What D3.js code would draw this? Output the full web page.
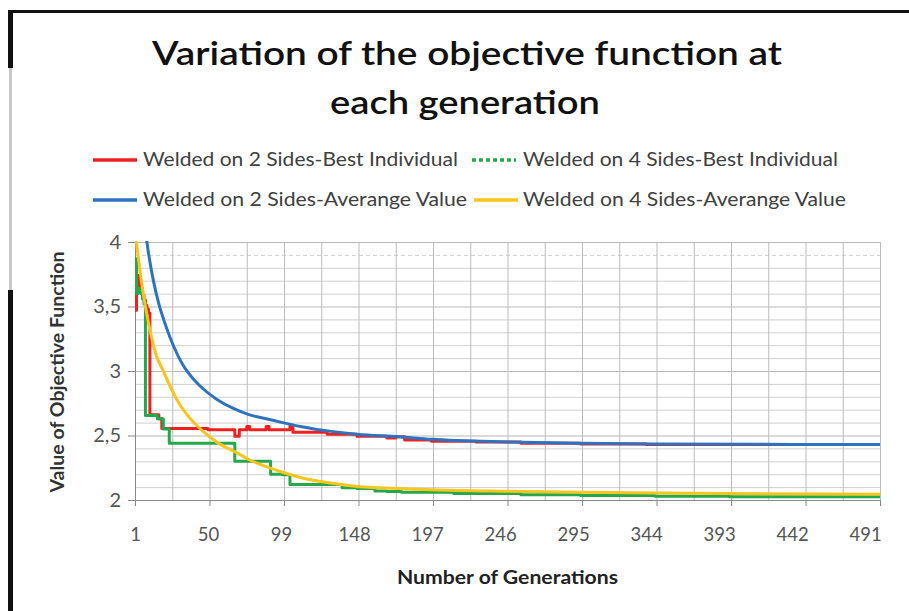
<!DOCTYPE html>
<html>
<head>
<meta charset="utf-8">
<script src="https://cdn.jsdelivr.net/npm/d3@7"></script>
<style>
  html, body { margin: 0; padding: 0; background: #fff; }
  svg { display: block; font-family: Lato, "Noto Sans", sans-serif; }
</style>
</head>
<body>
<script>
// generation, value pairs
const best2Sides = [
  [1, 3.47], [2, 3.62], [3, 3.74], [4, 3.70], [5, 3.64], [6, 3.59], [7, 3.55],
  [8, 3.51], [9, 3.48], [10, 3.45], [11, 2.66], [17, 2.63], [19, 2.555],
  [50, 2.545], [68, 2.495], [71, 2.545], [76, 2.57], [78, 2.545], [89, 2.57],
  [91, 2.545], [105, 2.575], [107, 2.525], [130, 2.51], [150, 2.495],
  [170, 2.48], [176, 2.49], [182, 2.465], [200, 2.455], [230, 2.45],
  [260, 2.44], [300, 2.435], [344, 2.43], [501, 2.43]
];
const best4Sides = [
  [1, 3.87], [2, 3.60], [3, 3.64], [4, 3.63], [5, 3.60], [6, 3.56], [7, 3.52],
  [8, 2.655], [16, 2.63], [20, 2.55], [24, 2.44], [68, 2.30], [92, 2.20],
  [100, 2.195], [105, 2.12], [140, 2.095], [150, 2.09], [162, 2.07],
  [170, 2.065], [180, 2.06], [215, 2.05], [260, 2.04], [300, 2.035],
  [350, 2.03], [400, 2.025], [501, 2.02]
];
const avg2Sides = [
  [1, 5.2], [5, 4.45], [9, 4.0], [13, 3.72], [17, 3.52], [22, 3.34], [27, 3.19],
  [33, 3.05], [40, 2.94], [45, 2.88], [56, 2.78], [67, 2.71], [78, 2.66],
  [89, 2.63], [100, 2.60], [112, 2.57], [134, 2.53], [150, 2.51], [178, 2.49],
  [200, 2.47], [250, 2.45], [300, 2.44], [350, 2.435], [501, 2.43]
];
const avg4Sides = [
  [1, 4.08], [3, 3.9], [5, 3.72], [8, 3.5], [11, 3.32], [15, 3.13], [20, 3.0],
  [25, 2.87], [30, 2.76], [36, 2.66], [44, 2.56], [50, 2.5], [57, 2.44],
  [68, 2.375], [78, 2.31], [90, 2.255], [100, 2.215], [112, 2.175],
  [130, 2.135], [150, 2.105], [177, 2.09], [200, 2.08], [250, 2.068],
  [300, 2.06], [350, 2.055], [400, 2.05], [501, 2.045]
];

const seriesNames = [
  "Welded on 2 Sides-Best Individual",
  "Welded on 4 Sides-Best Individual",
  "Welded on 2 Sides-Averange Value",
  "Welded on 4 Sides-Averange Value"
];
const xTickLabels = [1, 50, 99, 148, 197, 246, 295, 344, 393, 442, 491];
const yTickLabels = [2, 2.5, 3, 3.5, 4];

const W = 909, H = 611;
const plotL = 135, plotR = 880, plotT = 242, plotB = 500;

const svg = d3.select("body").append("svg")
  .attr("width", W).attr("height", H);

// scan frame
svg.append("rect").attr("x", 8).attr("y", 10).attr("width", W - 8).attr("height", 3).attr("fill", "#111");
svg.append("rect").attr("x", 8).attr("y", 10).attr("width", 5).attr("height", 58).attr("fill", "#111");
svg.append("rect").attr("x", 9).attr("y", 68).attr("width", 3).attr("height", 222).attr("fill", "#c9c9c9");
svg.append("rect").attr("x", 8).attr("y", 290).attr("width", 5).attr("height", H - 290).attr("fill", "#111");

const x = d3.scaleLinear().domain([1, 501]).range([plotL, plotR]);
const y = d3.scaleLinear().domain([2, 4]).range([plotB, plotT]);

// horizontal grid
const hGrid = svg.append("g").attr("transform", `translate(${plotL},0)`)
  .call(d3.axisLeft(y).tickValues(d3.range(20, 41).map(d => d / 10))
    .tickSize(-(plotR - plotL)).tickFormat(""));
hGrid.select(".domain").remove();
hGrid.selectAll("line")
  .attr("stroke", d => Math.abs(d * 2 - Math.round(d * 2)) < 1e-6 ? "#b8b8b8" : "#d0d0d0")
  .attr("stroke-dasharray", d => Math.abs(d - 3.9) < 1e-6 ? "4,3" : null);

// vertical grid
const vGrid = svg.append("g").attr("transform", `translate(0,${plotB})`)
  .call(d3.axisBottom(x).tickValues(d3.range(1, 502, 25))
    .tickSize(-(plotB - plotT)).tickFormat(""));
vGrid.select(".domain").remove();
vGrid.selectAll("line").attr("stroke", "#bcbcbc");

// y axis
const yAxis = svg.append("g").attr("transform", `translate(${plotL},0)`)
  .call(d3.axisLeft(y).tickValues(yTickLabels).tickSize(7).tickPadding(7)
    .tickFormat(d => String(d).replace(".", ",")));
yAxis.select(".domain").attr("stroke", "#8a8a8a");
yAxis.selectAll("line").attr("stroke", "#8a8a8a");
yAxis.selectAll("text").attr("fill", "#555").attr("font-size", 20).attr("font-family", "Lato, sans-serif");

// x axis
const xAxis = svg.append("g").attr("transform", `translate(0,${plotB})`)
  .call(d3.axisBottom(x).tickValues(d3.range(1, 502, 50)).tickSizeInner(6)
    .tickSizeOuter(0).tickFormat(""));
xAxis.select(".domain").attr("stroke", "#8a8a8a");
xAxis.selectAll("line").attr("stroke", "#8a8a8a");

const xLabels = svg.append("g").attr("transform", `translate(0,${plotB})`)
  .call(d3.axisBottom(x).tickValues(xTickLabels).tickSize(0).tickPadding(28));
xLabels.select(".domain").remove();
xLabels.selectAll("text").attr("fill", "#555").attr("font-size", 18.5).attr("font-family", "Lato, sans-serif");

// lines
svg.append("clipPath").attr("id", "plot")
  .append("rect").attr("x", plotL).attr("y", plotT - 1)
  .attr("width", plotR - plotL).attr("height", plotB - plotT + 1);

const stepLine = d3.line().x(d => x(d[0])).y(d => y(d[1])).curve(d3.curveStepAfter);
const smoothLine = d3.line().x(d => x(d[0])).y(d => y(d[1])).curve(d3.curveMonotoneX);

const colors = ["#ef2020", "#25a84a", "#2e73c0", "#f8c41e"];
const plotG = svg.append("g").attr("clip-path", "url(#plot)");
[[best2Sides, stepLine], [best4Sides, stepLine], [avg2Sides, smoothLine], [avg4Sides, smoothLine]]
  .forEach(([data, gen], i) => {
    plotG.append("path").attr("d", gen(data))
      .attr("fill", "none").attr("stroke", colors[i])
      .attr("stroke-width", 3).attr("stroke-linejoin", "round");
  });

// legend
const legendPos = [[93, 160], [472, 160], [93, 200], [474, 200]];
const legendTextW = [315, 315, 324, 323];
seriesNames.forEach((name, i) => {
  const [lx, ly] = legendPos[i];
  svg.append("line").attr("x1", lx).attr("x2", lx + 44).attr("y1", ly).attr("y2", ly)
    .attr("stroke", colors[i]).attr("stroke-width", 3.5)
    .attr("stroke-dasharray", i === 1 ? "4,3" : null);
  svg.append("text").attr("x", i % 2 ? 523 : 143).attr("y", ly + 6)
    .attr("font-size", 18.5).attr("fill", "#404040")
    .attr("textLength", legendTextW[i]).attr("lengthAdjust", "spacingAndGlyphs")
    .text(name);
});

// titles
svg.append("text").attr("x", 152).attr("y", 65)
  .attr("font-size", 33).attr("font-weight", 600).attr("fill", "#111")
  .attr("textLength", 630).attr("lengthAdjust", "spacingAndGlyphs")
  .text("Variation of the objective function at");
svg.append("text").attr("x", 330).attr("y", 114)
  .attr("font-size", 33).attr("font-weight", 600).attr("fill", "#111")
  .attr("textLength", 270).attr("lengthAdjust", "spacingAndGlyphs")
  .text("each generation");

svg.append("text").attr("transform", "translate(64,372) rotate(-90)")
  .attr("text-anchor", "middle").attr("font-size", 19.5).attr("font-weight", 700)
  .attr("fill", "#333").text("Value of Objective Function");

svg.append("text").attr("x", 397).attr("y", 584)
  .attr("font-size", 18).attr("font-weight", 700).attr("fill", "#222")
  .attr("textLength", 221).attr("lengthAdjust", "spacingAndGlyphs")
  .text("Number of Generations");
</script>
</body>
</html>
